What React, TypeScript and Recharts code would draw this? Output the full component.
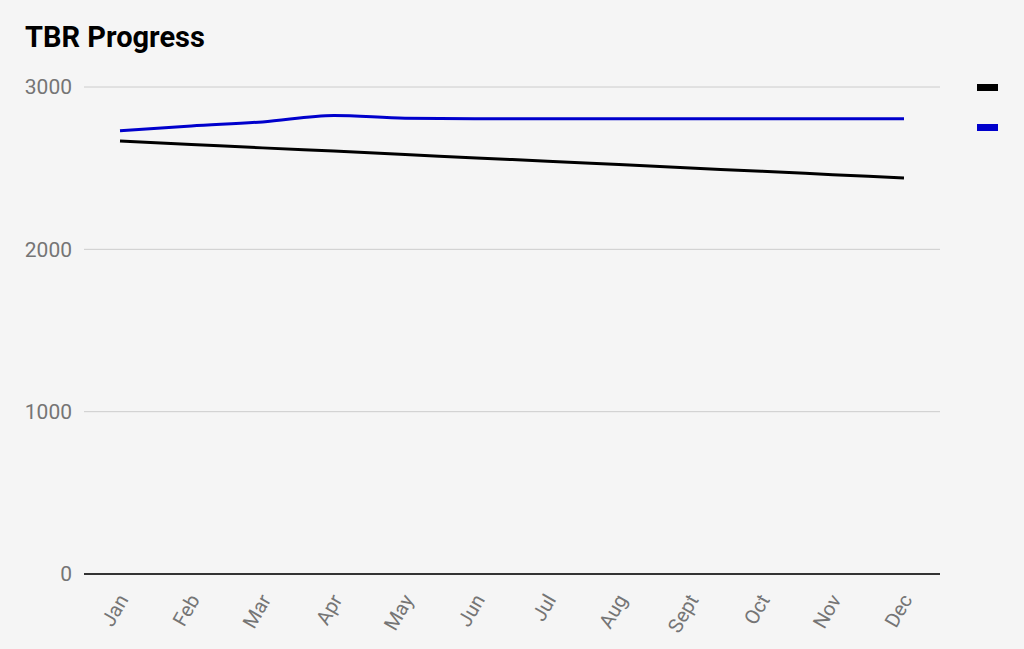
import { LineChart, Line, XAxis, YAxis, CartesianGrid, Legend } from 'recharts';

const months = ['Jan', 'Feb', 'Mar', 'Apr', 'May', 'Jun', 'Jul', 'Aug', 'Sept', 'Oct', 'Nov', 'Dec'];
const goal = [2667, 2646, 2625, 2605, 2584, 2563, 2543, 2522, 2501, 2481, 2460, 2439];
const tbr = [2730, 2760, 2785, 2825, 2808, 2805, 2805, 2805, 2805, 2805, 2805, 2805];
const yTicks = [0, 1000, 2000, 3000];

const data = months.map((m, i) => ({ month: m, goal: goal[i], tbr: tbr[i] }));

const FONT = 'Roboto, "Noto Sans", sans-serif';

function MonthTick({ x, y, payload }: any) {
  const tx = x + 3;
  const ty = y + 14;
  return (
    <text
      x={tx}
      y={ty}
      transform={`rotate(-60, ${tx}, ${ty})`}
      textAnchor="end"
      dominantBaseline="central"
      fill="#757575"
      fontSize={20}
      fontFamily={FONT}
    >
      {payload.value}
    </text>
  );
}

function SwatchLegend() {
  return (
    <div style={{ width: 21 }}>
      <div style={{ width: 21, height: 7, background: '#000000', marginBottom: 33 }} />
      <div style={{ width: 21, height: 7, background: '#0000cc' }} />
    </div>
  );
}

export default function App() {
  return (
    <div style={{ position: 'absolute', left: 0, top: 0, width: 1024, height: 649, background: '#f5f5f5', overflow: 'hidden' }}>
      <div style={{ position: 'absolute', left: 25, top: 20, fontFamily: FONT, fontWeight: 700, fontSize: 29, color: '#000' }}>
        TBR Progress
      </div>
      <LineChart width={1024} height={649} data={data} margin={{ top: 87, right: 63, bottom: 0, left: 0 }}>
        <CartesianGrid vertical={false} stroke="#cccccc" />
        <XAxis
          dataKey="month"
          interval={0}
          padding={{ left: 36, right: 36 }}
          tickLine={false}
          axisLine={{ stroke: '#333333', strokeWidth: 2 }}
          tick={<MonthTick />}
          height={75}
        />
        <YAxis
          width={84}
          domain={[0, 3000]}
          ticks={yTicks}
          tickLine={false}
          axisLine={false}
          tickMargin={6}
          tick={{ fill: '#757575', fontSize: 21, fontFamily: FONT }}
        />
        <Legend
          layout="vertical"
          align="right"
          verticalAlign="top"
          content={<SwatchLegend />}
          wrapperStyle={{ left: 977, top: 84, right: 'auto', width: 21 }}
        />
        <Line type="monotone" dataKey="goal" stroke="#000000" strokeWidth={3} dot={false} isAnimationActive={false} />
        <Line type="monotone" dataKey="tbr" stroke="#0000cc" strokeWidth={3} dot={false} isAnimationActive={false} />
      </LineChart>
    </div>
  );
}
